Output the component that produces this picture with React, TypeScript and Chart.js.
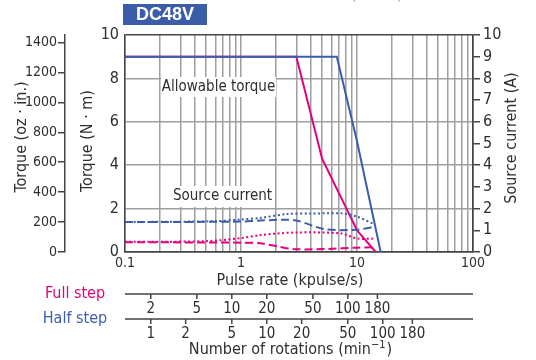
import React, { useEffect, useRef } from 'react';
import { Chart, registerables } from 'chart.js';

Chart.register(...registerables);

// ---------- data ----------
const pulseGrid = [
  0.1, 0.2, 0.3, 0.4, 0.5, 0.6, 0.7, 0.8, 0.9,
  1, 2, 3, 4, 5, 6, 7, 8, 9,
  10, 20, 30, 40, 50, 60, 70, 80, 90, 100,
];
const torqueTicks = [0, 2, 4, 6, 8, 10];
const ozTicks = [0, 200, 400, 600, 800, 1000, 1200, 1400];
const currentTicks = [0, 1, 2, 3, 4, 5, 6, 7, 8, 9, 10];

// Allowable torque (N·m) vs pulse rate (kpulse/s)
const fullTorquePulse = [0.1, 3.0, 5.0, 10, 14.5];
const fullTorque = [9, 9, 4.3, 1.0, 0];
const halfTorquePulse = [0.1, 6.7, 10, 16];
const halfTorque = [9, 9, 5.1, 0];

// Source current (A) vs pulse rate (kpulse/s)
const fullCurDotPulse = [0.1, 0.5, 1, 1.46, 3, 7.4, 10, 14.3];
const fullCurDot = [0.47, 0.5, 0.64, 0.78, 0.9, 0.85, 0.62, 0.62];
const fullCurDashPulse = [0.1, 1, 1.46, 2.1, 2.9, 5.5, 10, 14];
const fullCurDash = [0.45, 0.43, 0.4, 0.25, 0.13, 0.14, 0.2, 0.22];
const halfCurDotPulse = [0.1, 0.6, 1, 1.46, 2.5, 4, 7.4, 10, 14.3];
const halfCurDot = [1.38, 1.42, 1.5, 1.57, 1.75, 1.77, 1.78, 1.63, 1.26];
const halfCurDashPulse = [0.1, 1, 1.46, 2.9, 5.3, 10, 14.3];
const halfCurDash = [1.38, 1.4, 1.45, 1.46, 1.05, 1.03, 1.17];

// Rotation speed scales (min^-1)
const fullStepRpm = [2, 5, 10, 20, 50, 100, 180];
const halfStepRpm = [1, 2, 5, 10, 20, 50, 100, 180];
const RPM_PER_KPULSE_FULL = 12;
const RPM_PER_KPULSE_HALF = 6;

// ---------- styles ----------
const PINK = '#e4007f';
const BLUE = '#3b5daa';
const TEXT = '#2e2e2e';
const GRID = '#9e9e9e';
const DARK = '#444444';
const FONT = '"Liberation Sans Narrow", "DejaVu Sans Condensed", "Roboto Condensed", "Liberation Sans", sans-serif';

const pts = (xs: number[], ys: number[]) => xs.map((x, i) => ({ x, y: ys[i] }));
const isDecade = (v: number) => Math.abs(Math.log10(v) - Math.round(Math.log10(v))) < 1e-6;

function drawText(
  ctx: CanvasRenderingContext2D,
  s: string,
  x: number,
  y: number,
  font: string,
  color: string,
  rot = 0,
  align: CanvasTextAlign = 'center'
) {
  ctx.save();
  ctx.translate(x, y);
  if (rot) ctx.rotate(rot);
  ctx.font = font;
  ctx.fillStyle = color;
  ctx.textAlign = align;
  ctx.textBaseline = 'middle';
  ctx.fillText(s, 0, 0);
  ctx.restore();
}

function boxLabel(ctx: CanvasRenderingContext2D, s: string, x: number, y: number, w: number, h: number) {
  ctx.save();
  ctx.fillStyle = '#ffffff';
  ctx.fillRect(x, y, w, h);
  ctx.restore();
  drawText(ctx, s, x + w / 2, y + h / 2, `15px ${FONT}`, TEXT);
}

const overlay = {
  id: 'overlay',
  beforeDatasetsDraw(chart: any) {
    const ctx = chart.ctx as CanvasRenderingContext2D;
    boxLabel(ctx, 'Allowable torque', 161, 77, 115, 20);
    boxLabel(ctx, 'Source current', 170, 186, 105, 21);
  },
  afterDraw(chart: any) {
    const ctx = chart.ctx as CanvasRenderingContext2D;
    const xs = chart.scales.x;
    const f16 = `16px ${FONT}`;
    const f15 = `15px ${FONT}`;

    // axis titles
    drawText(ctx, 'Torque (oz \u00b7 in.)', 22, 137, f16, TEXT, -Math.PI / 2);
    drawText(ctx, 'Torque (N \u00b7 m)', 88, 141, f16, TEXT, -Math.PI / 2);
    drawText(ctx, 'Source current (A)', 512, 138, f16, TEXT, -Math.PI / 2);
    drawText(ctx, 'Pulse rate (kpulse/s)', 290, 281, f16, TEXT);

    // rotation-speed scales
    const rows = [
      { y: 294, rpm: fullStepRpm, k: RPM_PER_KPULSE_FULL, name: 'Full step', color: PINK },
      { y: 319, rpm: halfStepRpm, k: RPM_PER_KPULSE_HALF, name: 'Half step', color: BLUE },
    ];
    for (const r of rows) {
      ctx.save();
      ctx.strokeStyle = DARK;
      ctx.lineWidth = 1.5;
      ctx.beginPath();
      ctx.moveTo(xs.left, r.y);
      ctx.lineTo(xs.right, r.y);
      for (const v of r.rpm) {
        const px = xs.getPixelForValue(v / r.k);
        ctx.moveTo(px, r.y);
        ctx.lineTo(px, r.y + 5);
      }
      ctx.stroke();
      ctx.restore();
      for (const v of r.rpm) {
        drawText(ctx, String(v), xs.getPixelForValue(v / r.k), r.y + 15, f15, TEXT);
      }
      drawText(ctx, r.name, 75, r.y, f16, r.color);
    }

    // "Number of rotations (min-1)"
    const main = 'Number of rotations (min';
    ctx.save();
    ctx.font = f16;
    const w1 = ctx.measureText(main).width;
    ctx.font = `11px ${FONT}`;
    const w2 = ctx.measureText('\u22121').width;
    ctx.font = f16;
    const w3 = ctx.measureText(')').width;
    ctx.restore();
    const start = 290 - (w1 + w2 + w3) / 2;
    drawText(ctx, main, start, 350, f16, TEXT, 0, 'left');
    drawText(ctx, '\u22121', start + w1, 345, `11px ${FONT}`, TEXT, 0, 'left');
    drawText(ctx, ')', start + w1 + w2 + 1, 350, f16, TEXT, 0, 'left');

    // header tag
    ctx.save();
    ctx.fillStyle = '#3a5ca9';
    ctx.fillRect(123, 4, 84, 21);
    ctx.restore();
    drawText(ctx, 'DC48V', 165, 15, `bold 18px "Liberation Sans", Arial, sans-serif`, '#ffffff');

    // cut-off caption at the very top (only its lowest pixels are visible)
    ctx.save();
    ctx.font = f16;
    ctx.fillStyle = '#a0a0a0';
    ctx.textAlign = 'center';
    ctx.textBaseline = 'alphabetic';
    ctx.fillText('Number of rotations (min\u207b\u00b9)', 302, -1.5);
    ctx.restore();
  },
};

export default function App() {
  const ref = useRef<HTMLCanvasElement | null>(null);

  useEffect(() => {
    document.body.style.margin = '0';
    const canvas = ref.current;
    if (!canvas) return;

    const line = (data: any[], color: string, axis: string, dash: number[] = [], tension = 0) => ({
      data,
      borderColor: color,
      backgroundColor: color,
      borderWidth: 2,
      borderDash: dash,
      pointRadius: 0,
      tension,
      fill: false,
      yAxisID: axis,
    });

    const chart = new Chart(canvas, {
      type: 'line',
      data: {
        datasets: [
          line(pts(fullCurDotPulse, fullCurDot), PINK, 'y2', [2, 2.5], 0.3),
          line(pts(fullCurDashPulse, fullCurDash), PINK, 'y2', [8, 4], 0.3),
          line(pts(halfCurDotPulse, halfCurDot), BLUE, 'y2', [2, 2.5], 0.3),
          line(pts(halfCurDashPulse, halfCurDash), BLUE, 'y2', [8, 4], 0.3),
          line(pts(halfTorquePulse, halfTorque), BLUE, 'y'),
          line(pts(fullTorquePulse, fullTorque), PINK, 'y'),
        ] as any,
      },
      options: {
        responsive: false,
        animation: false,
        devicePixelRatio: 1,
        layout: { padding: { top: 35, left: 0, right: 0, bottom: 0 } },
        plugins: { legend: { display: false }, tooltip: { enabled: false } },
        scales: {
          x: {
            type: 'logarithmic',
            position: 'bottom',
            min: 0.1,
            max: 100,
            afterBuildTicks: (s: any) => {
              s.ticks = pulseGrid.map((v) => ({ value: v }));
            },
            afterFit: (s: any) => {
              s.height = 108;
            },
            ticks: {
              autoSkip: false,
              maxRotation: 0,
              padding: 3,
              color: TEXT,
              font: { family: FONT, size: 14 },
              callback: (v: any) => (isDecade(Number(v)) ? String(Number(v)) : ''),
            },
            grid: {
              drawTicks: false,
              lineWidth: 1.5,
              color: (c: any) => (c.tick && c.tick.value === 100 ? DARK : GRID),
            },
            border: { display: true, color: DARK, width: 1.5 },
          },
          y: {
            type: 'linear',
            position: 'left',
            weight: 0,
            min: 0,
            max: 10,
            afterBuildTicks: (s: any) => {
              s.ticks = torqueTicks.map((v) => ({ value: v }));
            },
            afterFit: (s: any) => {
              s.width = 60;
            },
            ticks: {
              autoSkip: false,
              padding: 6,
              color: TEXT,
              font: { family: FONT, size: 16 },
              callback: (v: any) => String(v),
            },
            grid: {
              drawTicks: false,
              lineWidth: 1.5,
              color: (c: any) => (c.tick && (c.tick.value === 10 || c.tick.value === 0) ? DARK : GRID),
            },
            border: { display: true, color: DARK, width: 1.5 },
          },
          yOz: {
            type: 'linear',
            position: 'left',
            weight: 1,
            min: 0,
            max: 1450,
            afterBuildTicks: (s: any) => {
              s.ticks = ozTicks.map((v) => ({ value: v }));
            },
            afterFit: (s: any) => {
              s.width = 65;
            },
            ticks: {
              autoSkip: false,
              padding: 1,
              color: TEXT,
              font: { family: FONT, size: 14 },
              callback: (v: any) => String(v),
            },
            grid: { drawOnChartArea: false, drawTicks: true, tickLength: 7, color: DARK, lineWidth: 1.5 },
            border: { display: true, color: DARK, width: 1.5 },
          },
          y2: {
            type: 'linear',
            position: 'right',
            min: 0,
            max: 10,
            afterBuildTicks: (s: any) => {
              s.ticks = currentTicks.map((v) => ({ value: v }));
            },
            afterFit: (s: any) => {
              s.width = 63;
            },
            ticks: {
              autoSkip: false,
              padding: 3,
              color: TEXT,
              font: { family: FONT, size: 16 },
              callback: (v: any) => String(v),
            },
            grid: { drawOnChartArea: false, drawTicks: true, tickLength: 7, color: DARK, lineWidth: 1.5 },
            border: { display: true, color: DARK, width: 1.5 },
          },
        } as any,
      },
      plugins: [overlay as any],
    });

    return () => chart.destroy();
  }, []);

  return (
    <div style={{ width: 536, height: 360 }}>
      <canvas ref={ref} width={536} height={360} style={{ display: 'block' }} />
    </div>
  );
}
